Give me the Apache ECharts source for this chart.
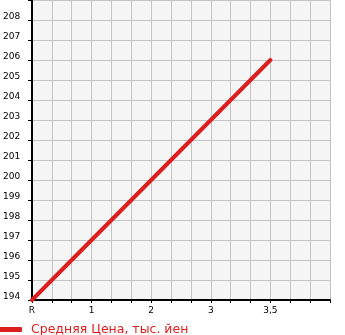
<!DOCTYPE html>
<html><head><meta charset="utf-8">
<script src="https://cdn.jsdelivr.net/npm/echarts@6/dist/echarts.min.js"></script>
<style>html,body{margin:0;padding:0;background:#fff}#c{width:345px;height:335px}</style>
</head><body><div id="c"></div>
<script>
var categories = ['R', '1', '2', '3', '3,5'];
var prices = [194, null, null, null, 206];
var yTicks = [194,195,196,197,198,199,200,201,202,203,204,205,206,207,208];
var seriesName = 'Средняя Цена, тыс. йен';
var STEP = 3; // minor grid divisions per category

var data = categories.map(function (c, i) { return [i * STEP, prices[i]]; });
var chart = echarts.init(document.getElementById('c'), null, {renderer: 'canvas'});
var FONT = 'DejaVu Sans';
chart.setOption({
  animation: false,
  textStyle: {fontFamily: FONT},
  grid: {left: 30, top: 0, width: 300, height: 300, show: true, backgroundColor: '#f5f5f5', borderWidth: 0},
  legend: {
    left: -3, top: 323, padding: 0,
    icon: 'roundRect', itemWidth: 25, itemHeight: 5,
    data: [{name: seriesName, itemStyle: {color: '#dc1e1e'}}],
    textStyle: {color: '#dc1e1e', fontSize: 12.5, fontFamily: FONT, padding: [0, 0, 0, 4]}
  },
  xAxis: {
    type: 'value', min: 0, max: 15, interval: 1,
    axisLine: {show: true, onZero: false, lineStyle: {color: '#000', width: 2}},
    axisTick: {show: true, length: 3, lineStyle: {color: '#000', width: 1}},
    splitLine: {show: true, lineStyle: {color: '#c4c4c4', width: 1}},
    axisLabel: {
      margin: 6, color: '#000', fontSize: 9, fontFamily: FONT,
      formatter: function (v) { return (v % STEP === 0 && categories[v / STEP] !== undefined) ? categories[v / STEP] : ''; }
    }
  },
  yAxis: {
    type: 'value', min: 194, max: 209, interval: 1,
    axisLine: {show: true, onZero: false, lineStyle: {color: '#000', width: 2}},
    axisTick: {show: true, length: 4, lineStyle: {color: '#000', width: 1}},
    splitLine: {show: true, lineStyle: {color: '#c4c4c4', width: 1}},
    axisLabel: {
      margin: 29, align: 'left', verticalAlign: 'bottom', lineHeight: 6,
      color: '#000', fontSize: 9, fontFamily: FONT,
      formatter: function (v) { return yTicks.indexOf(v) >= 0 ? String(v) : ''; }
    }
  },
  series: [{
    name: seriesName, type: 'line', data: data, connectNulls: true,
    showSymbol: false, symbol: 'none',
    lineStyle: {color: '#dc1e1e', width: 4, cap: 'round'},
    itemStyle: {color: '#dc1e1e'}
  }]
});
</script></body></html>
